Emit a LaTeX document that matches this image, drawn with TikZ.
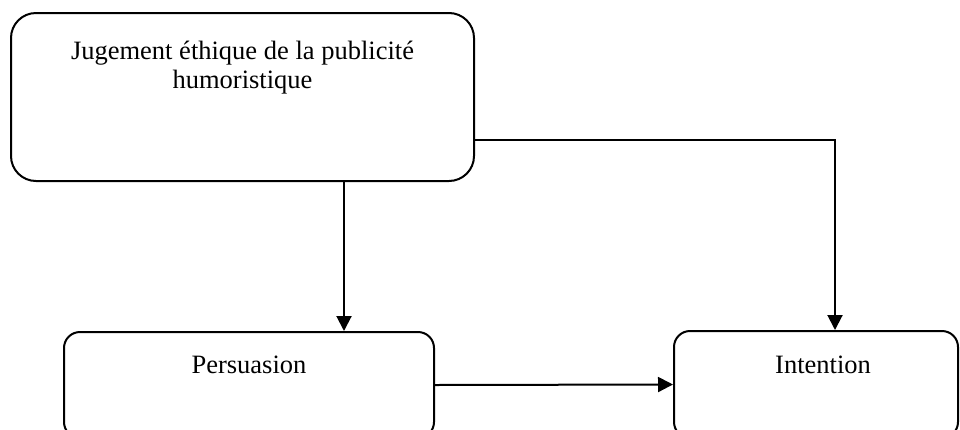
\documentclass[tikz,border=0pt]{standalone}
\usepackage{fontspec}
\setmainfont{Liberation Serif}
\usetikzlibrary{arrows.meta, positioning}

\begin{document}
\begin{tikzpicture}[x=1pt, y=-1pt,
    boite/.style={draw, line width=2pt, inner sep=0pt, align=center, anchor=north west,
        font=\fontsize{26.5}{29}\selectfont},
    fleche/.style={line width=2pt, -{Triangle[length=15pt, width=15pt]}}]
    \useasboundingbox (0,0) rectangle (960,429);
    \clip (0,0) rectangle (960,429);

    % jugement
    \node[boite, rounded corners=25pt, minimum width=463pt, text height=75pt, text depth=93pt]
        (jug) at (10,12) {Jugement éthique de la publicité\\humoristique};

    % persuasion et intention
    \node[boite, rounded corners=16pt, minimum width=370pt, text height=41pt, text depth=65pt]
        (pers) at (63,331) {Persuasion};
    \node[boite, rounded corners=16pt, minimum width=284pt, text height=42pt, text depth=65pt]
        (inten) at (673,330) {\hspace{14pt}Intention};

    % fleches
    \draw[fleche] ([xshift=95pt]pers.north |- jug.south) -- ([xshift=95pt]pers.north);
    \draw[fleche] ([yshift=-43pt]jug.east) -| ([xshift=19pt]inten.north);
    \draw[fleche] (pers.east) -- (inten.west);
\end{tikzpicture}
\end{document}
